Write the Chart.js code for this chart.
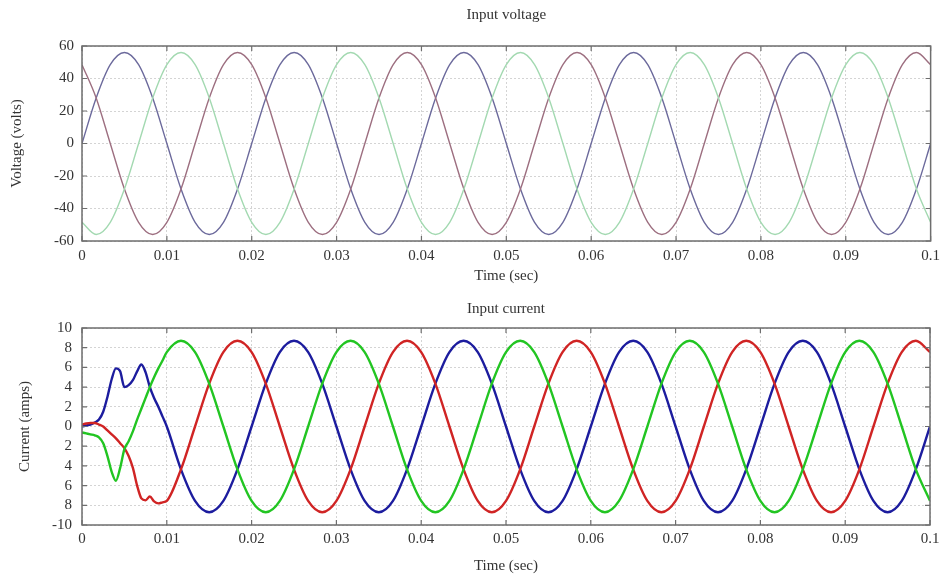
<!DOCTYPE html>
<html>
<head>
<meta charset="utf-8">
<script src="https://cdn.jsdelivr.net/npm/chart.js@4"></script>
<style>
  body { margin: 0; background: #fff; }
  .box { position: absolute; left: 0; width: 946px; height: 290px; }
</style>
</head>
<body>
<div class="box" style="top:0"><canvas id="voltage" width="946" height="290"></canvas></div>
<div class="box" style="top:290px"><canvas id="current" width="946" height="290"></canvas></div>
<script>
// time base (sec), one sample every 30 degrees of a 50 Hz cycle
const voltTime = [
	0, 0.00167, 0.00333, 0.005, 0.00667, 0.00833, 0.01, 0.01167, 0.01333, 0.015, 0.01667, 0.01833,
	0.02, 0.02167, 0.02333, 0.025, 0.02667, 0.02833, 0.03, 0.03167, 0.03333, 0.035, 0.03667, 0.03833,
	0.04, 0.04167, 0.04333, 0.045, 0.04667, 0.04833, 0.05, 0.05167, 0.05333, 0.055, 0.05667, 0.05833,
	0.06, 0.06167, 0.06333, 0.065, 0.06667, 0.06833, 0.07, 0.07167, 0.07333, 0.075, 0.07667, 0.07833,
	0.08, 0.08167, 0.08333, 0.085, 0.08667, 0.08833, 0.09, 0.09167, 0.09333, 0.095, 0.09667, 0.09833,
	0.1
];

const voltBlue = [
	0, 28, 48.5, 56, 48.5, 28, 0, -28, -48.5, -56, -48.5, -28,
	0, 28, 48.5, 56, 48.5, 28, 0, -28, -48.5, -56, -48.5, -28,
	0, 28, 48.5, 56, 48.5, 28, 0, -28, -48.5, -56, -48.5, -28,
	0, 28, 48.5, 56, 48.5, 28, 0, -28, -48.5, -56, -48.5, -28,
	0, 28, 48.5, 56, 48.5, 28, 0, -28, -48.5, -56, -48.5, -28,
	0
];
const voltRed = [
	48.5, 28, 0, -28, -48.5, -56, -48.5, -28, 0, 28, 48.5, 56,
	48.5, 28, 0, -28, -48.5, -56, -48.5, -28, 0, 28, 48.5, 56,
	48.5, 28, 0, -28, -48.5, -56, -48.5, -28, 0, 28, 48.5, 56,
	48.5, 28, 0, -28, -48.5, -56, -48.5, -28, 0, 28, 48.5, 56,
	48.5, 28, 0, -28, -48.5, -56, -48.5, -28, 0, 28, 48.5, 56,
	48.5
];
const voltGreen = [
	-48.5, -56, -48.5, -28, 0, 28, 48.5, 56, 48.5, 28, 0, -28,
	-48.5, -56, -48.5, -28, 0, 28, 48.5, 56, 48.5, 28, 0, -28,
	-48.5, -56, -48.5, -28, 0, 28, 48.5, 56, 48.5, 28, 0, -28,
	-48.5, -56, -48.5, -28, 0, 28, 48.5, 56, 48.5, 28, 0, -28,
	-48.5, -56, -48.5, -28, 0, 28, 48.5, 56, 48.5, 28, 0, -28,
	-48.5
];

// start-up transient of the current, 0 .. 0.0095 s
const startTime = [
	0, 0.0005, 0.001, 0.0015, 0.002, 0.0025, 0.003, 0.0035, 0.004, 0.0045,
	0.005, 0.0055, 0.006, 0.0065, 0.007, 0.0075, 0.008, 0.0085, 0.009, 0.0095
];
const startBlue = [0, 0.1, 0.2, 0.4, 0.7, 1.5, 3.0, 4.8, 5.9, 5.6, 4.0, 4.2, 4.7, 5.6, 6.3, 5.5, 4.0, 2.9, 2.0, 1.0];
const startGreen = [-0.6, -0.7, -0.8, -0.9, -1.1, -1.7, -3.0, -4.6, -5.5, -4.2, -2.3, -1.5, -0.5, 0.7, 1.8, 2.9, 4.0, 5.0, 5.9, 6.7];
const startRed = [0.2, 0.3, 0.35, 0.35, 0.2, 0, -0.4, -0.8, -1.2, -1.7, -2.2, -3.0, -4.2, -6.0, -7.3, -7.5, -7.1, -7.6, -7.8, -7.7];

// steady state current from 0.01 s to 0.1 s
const steadyBlue = [
	0, -4.35, -7.55, -8.7, -7.55, -4.35, 0, 4.35, 7.55, 8.7, 7.55, 4.35,
	0, -4.35, -7.55, -8.7, -7.55, -4.35, 0, 4.35, 7.55, 8.7, 7.55, 4.35,
	0, -4.35, -7.55, -8.7, -7.55, -4.35, 0, 4.35, 7.55, 8.7, 7.55, 4.35,
	0, -4.35, -7.55, -8.7, -7.55, -4.35, 0, 4.35, 7.55, 8.7, 7.55, 4.35,
	0, -4.35, -7.55, -8.7, -7.55, -4.35, 0
];
const steadyGreen = [
	7.55, 8.7, 7.55, 4.35, 0, -4.35, -7.55, -8.7, -7.55, -4.35, 0, 4.35,
	7.55, 8.7, 7.55, 4.35, 0, -4.35, -7.55, -8.7, -7.55, -4.35, 0, 4.35,
	7.55, 8.7, 7.55, 4.35, 0, -4.35, -7.55, -8.7, -7.55, -4.35, 0, 4.35,
	7.55, 8.7, 7.55, 4.35, 0, -4.35, -7.55, -8.7, -7.55, -4.35, 0, 4.35,
	7.55, 8.7, 7.55, 4.35, 0, -4.35, -7.55
];
const steadyRed = [
	-7.55, -4.35, 0, 4.35, 7.55, 8.7, 7.55, 4.35, 0, -4.35, -7.55, -8.7,
	-7.55, -4.35, 0, 4.35, 7.55, 8.7, 7.55, 4.35, 0, -4.35, -7.55, -8.7,
	-7.55, -4.35, 0, 4.35, 7.55, 8.7, 7.55, 4.35, 0, -4.35, -7.55, -8.7,
	-7.55, -4.35, 0, 4.35, 7.55, 8.7, 7.55, 4.35, 0, -4.35, -7.55, -8.7,
	-7.55, -4.35, 0, 4.35, 7.55, 8.7, 7.55
];

const currTime = startTime.concat(voltTime.slice(6));
const currBlue = startBlue.concat(steadyBlue);
const currGreen = startGreen.concat(steadyGreen);
const currRed = startRed.concat(steadyRed);

const FONT = 'Liberation Serif';
const TEXT = '#333333';

function pts(xs, ys) {
	return xs.map((x, i) => ({ x: x, y: ys[i] }));
}

// frame round the plot with small inward ticks
const framePlugin = {
	id: 'frame',
	afterDatasetsDraw(chart) {
		const { ctx, chartArea: a, scales } = chart;
		ctx.save();
		ctx.strokeStyle = '#6e6e6e';
		ctx.lineWidth = 1.5;
		ctx.strokeRect(a.left, a.top, a.right - a.left, a.bottom - a.top);
		ctx.lineWidth = 1.2;
		ctx.beginPath();
		scales.x.ticks.forEach(t => {
			const px = scales.x.getPixelForValue(t.value);
			ctx.moveTo(px, a.top); ctx.lineTo(px, a.top + 5);
			ctx.moveTo(px, a.bottom); ctx.lineTo(px, a.bottom - 5);
		});
		scales.y.ticks.forEach(t => {
			const py = scales.y.getPixelForValue(t.value);
			ctx.moveTo(a.left, py); ctx.lineTo(a.left + 5, py);
			ctx.moveTo(a.right, py); ctx.lineTo(a.right - 5, py);
		});
		ctx.stroke();
		ctx.restore();
	}
};

function makeOptions(cfg) {
	return {
		responsive: false,
		animation: false,
		layout: { padding: { left: 0, right: cfg.right, top: 0, bottom: 0 } },
		plugins: {
			legend: { display: false },
			tooltip: { enabled: false },
			title: {
				display: true,
				text: cfg.title,
				fullSize: false,
				color: TEXT,
				font: { family: FONT, size: 15, weight: 'normal' },
				padding: cfg.titlePad
			}
		},
		elements: { point: { radius: 0 } },
		scales: {
			x: {
				type: 'linear',
				min: 0,
				max: 0.1,
				afterFit: s => { s.height = cfg.xHeight; },
				border: { display: false, dash: [2, 2] },
				grid: { color: '#d4d4d4', drawTicks: false },
				ticks: {
					stepSize: 0.01,
					autoSkip: false,
					padding: cfg.xTickPad,
					color: TEXT,
					font: { family: FONT, size: 15 },
					maxRotation: 0,
					callback: v => String(+v.toFixed(2))
				},
				title: {
					display: true,
					text: 'Time (sec)',
					color: TEXT,
					font: { family: FONT, size: 15 },
					padding: { top: 0, bottom: 5 }
				}
			},
			y: {
				min: cfg.yMin,
				max: cfg.yMax,
				afterFit: s => { s.width = 82; },
				border: { display: false, dash: [2, 2] },
				grid: { color: '#d4d4d4', drawTicks: false },
				ticks: {
					stepSize: cfg.yStep,
					autoSkip: false,
					padding: cfg.yTickPad,
					color: TEXT,
					font: { family: FONT, size: 15 },
					callback: cfg.yLabel
				},
				title: {
					display: true,
					text: cfg.yTitle,
					color: TEXT,
					font: { family: FONT, size: 15 },
					padding: { top: cfg.yTitlePad, bottom: 0 }
				}
			}
		}
	};
}

// Input voltage
new Chart(
	document.getElementById('voltage'),
	{
		type: 'line',
		data: {
			datasets: [
				{ data: pts(voltTime, voltGreen), borderColor: '#a3d9b1', borderWidth: 1.4, cubicInterpolationMode: 'monotone' },
				{ data: pts(voltTime, voltRed), borderColor: '#9d6f80', borderWidth: 1.4, cubicInterpolationMode: 'monotone' },
				{ data: pts(voltTime, voltBlue), borderColor: '#6c6a9c', borderWidth: 1.4, cubicInterpolationMode: 'monotone' }
			]
		},
		options: makeOptions({
			title: 'Input voltage',
			titlePad: { top: 6, bottom: 22 },
			right: 13,
			xHeight: 49,
			xTickPad: 6,
			yMin: -60, yMax: 60, yStep: 20,
			yTickPad: 8,
			yTitle: 'Voltage (volts)',
			yTitlePad: 8,
			yLabel: v => String(v)
		}),
		plugins: [framePlugin]
	}
);

// Input current
new Chart(
	document.getElementById('current'),
	{
		type: 'line',
		data: {
			datasets: [
				{ data: pts(currTime, currGreen), borderColor: '#22c522', borderWidth: 2.4, cubicInterpolationMode: 'monotone' },
				{ data: pts(currTime, currRed), borderColor: '#d02424', borderWidth: 2.4, cubicInterpolationMode: 'monotone' },
				{ data: pts(currTime, currBlue), borderColor: '#1c1c9e', borderWidth: 2.4, cubicInterpolationMode: 'monotone' }
			]
		},
		options: makeOptions({
			title: 'Input current',
			titlePad: { top: 10, bottom: 10 },
			right: 16,
			xHeight: 55,
			xTickPad: 5,
			yMin: -10, yMax: 10, yStep: 2,
			yTickPad: 10,
			yTitle: 'Current (amps)',
			yTitlePad: 16,
			// the original axis drops the minus sign on the inner negative ticks
			yLabel: v => (v < 0 && v > -10) ? String(-v) : String(v)
		}),
		plugins: [framePlugin]
	}
);
</script>
</body>
</html>
